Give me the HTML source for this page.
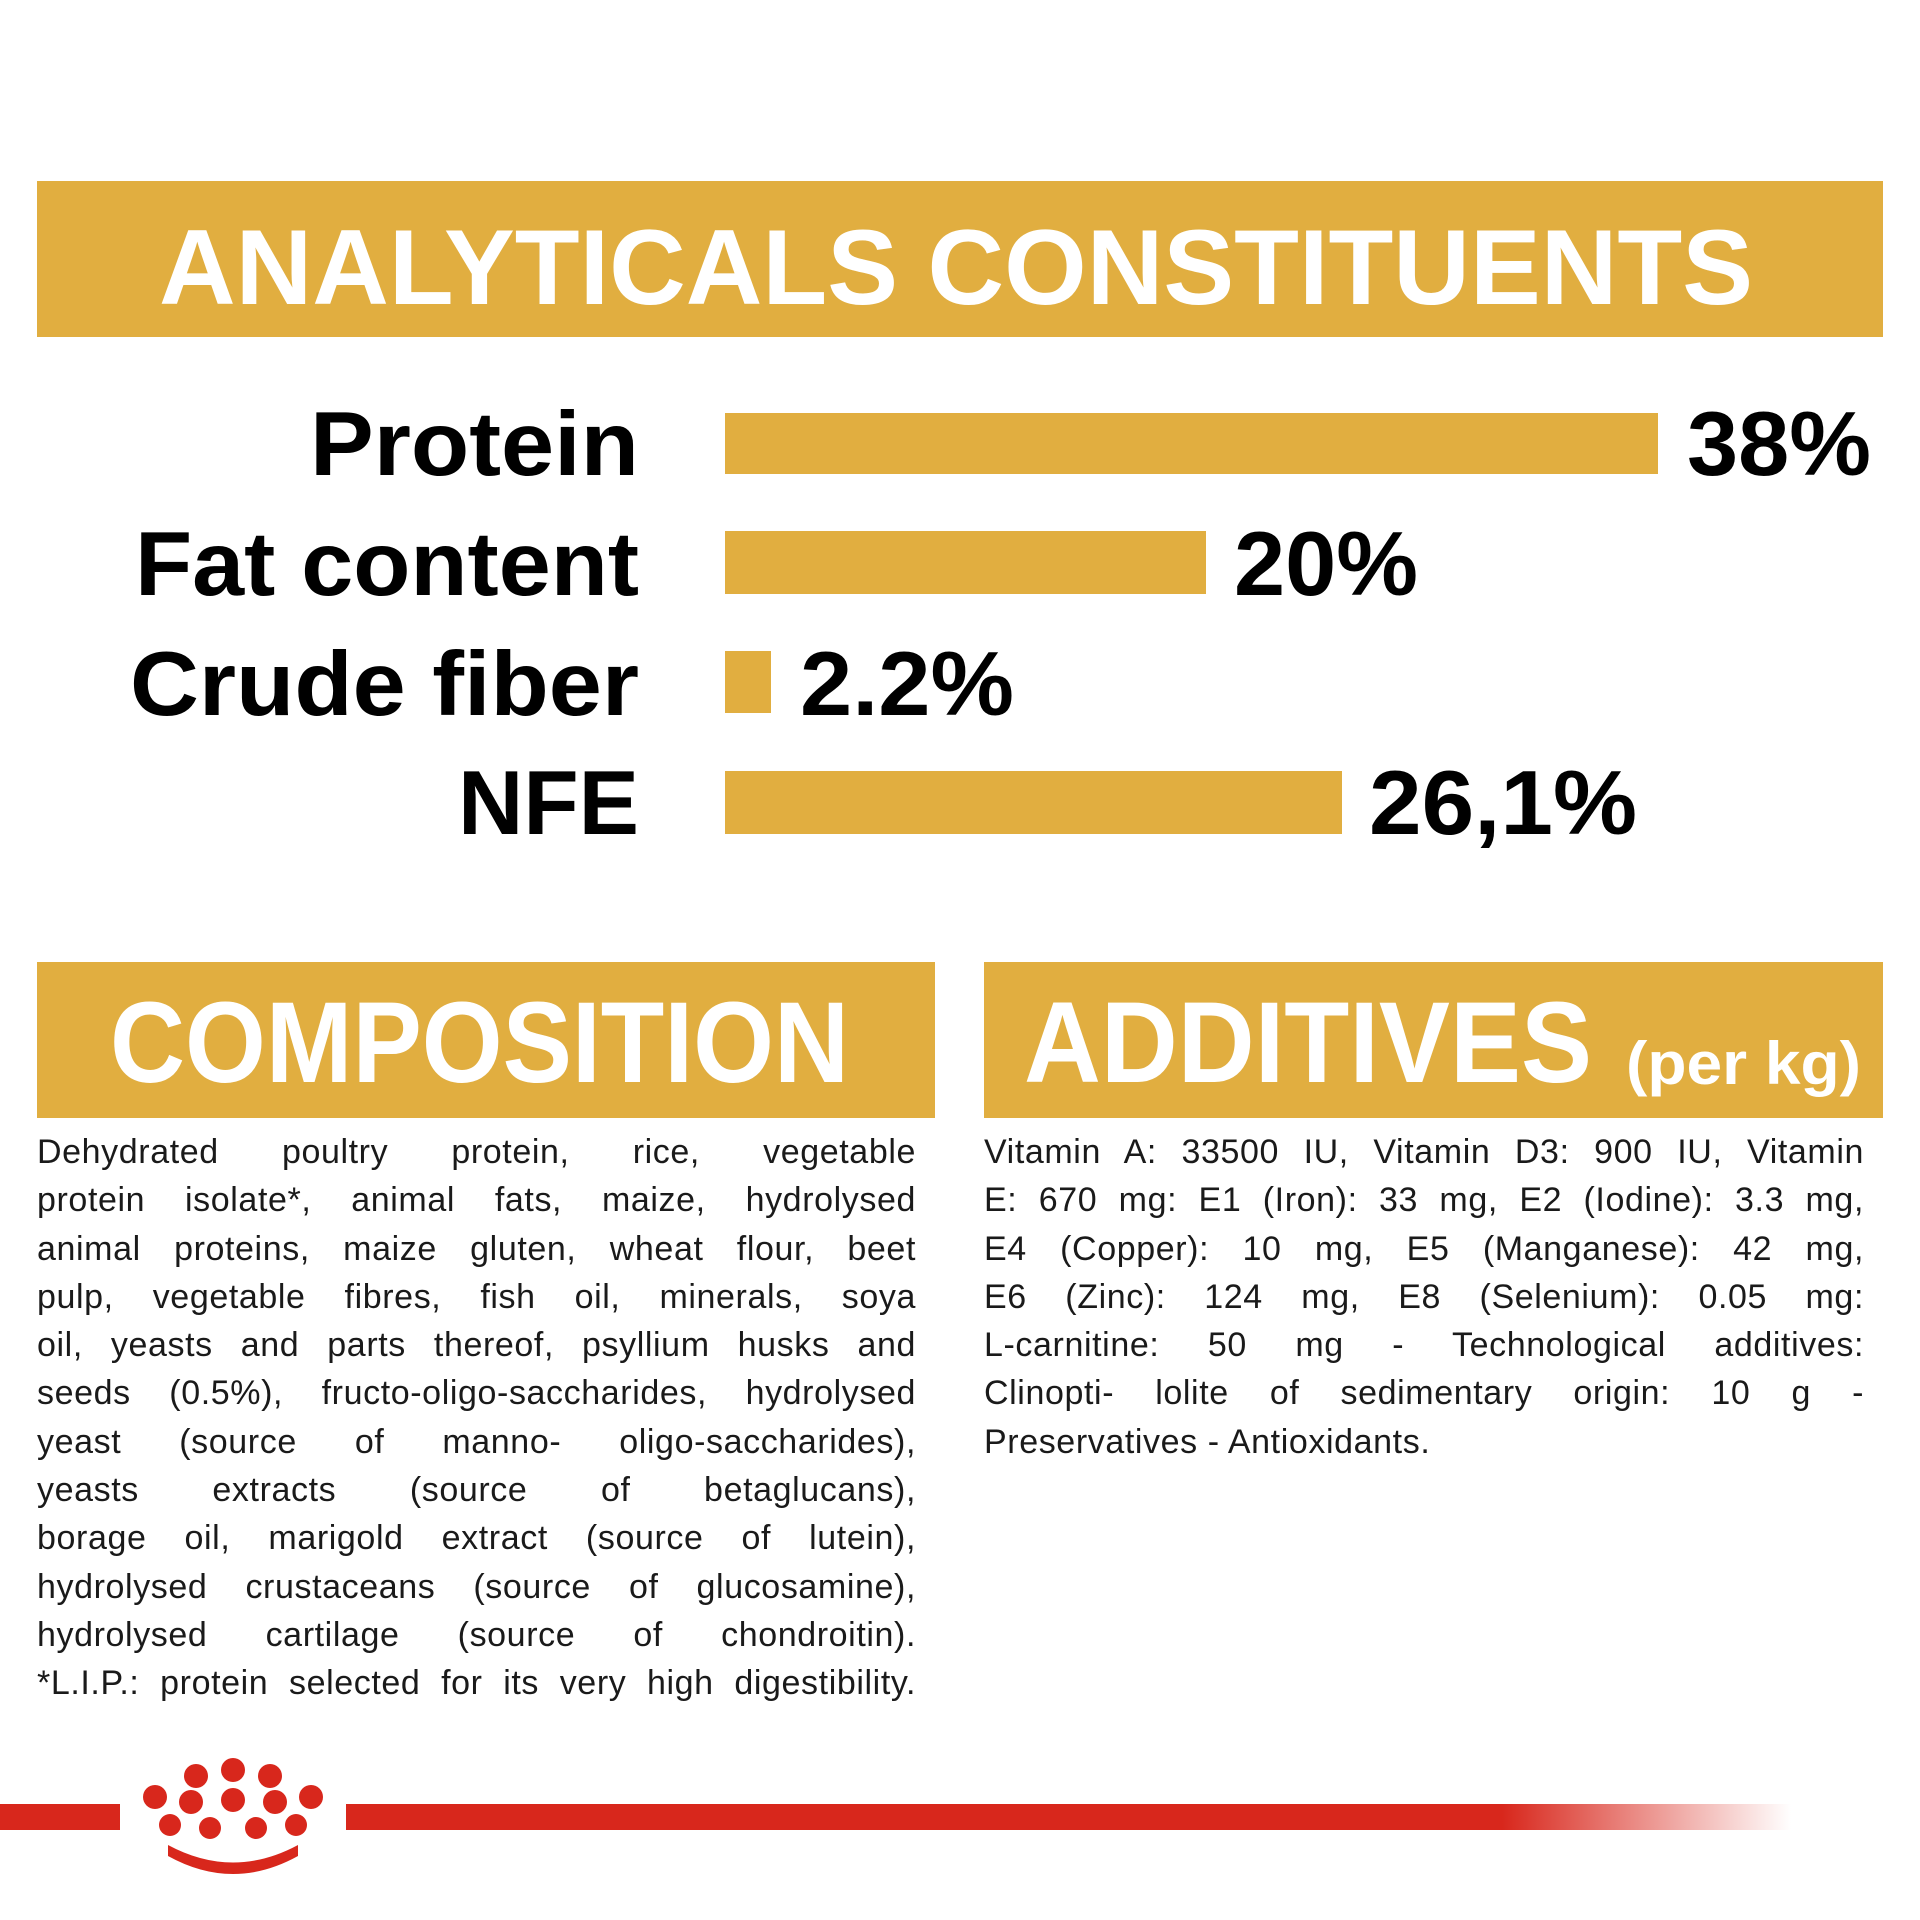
<!DOCTYPE html>
<html><head><meta charset="utf-8"><style>
html,body{margin:0;padding:0;background:#fff;width:1920px;height:1920px;overflow:hidden}
.t{position:absolute;font-family:"Liberation Sans",sans-serif;font-size:34px;letter-spacing:0.6px;line-height:48.3px;color:#1a1a1a}
.t div{text-align:justify;text-align-last:justify;white-space:nowrap;height:48.3px}
.t div.l{text-align-last:left}
</style></head><body>
<svg width="1920" height="1920" style="position:absolute;left:0;top:0" xmlns="http://www.w3.org/2000/svg">
<defs><linearGradient id="g" x1="0" x2="1"><stop offset="0" stop-color="#d8271c"/><stop offset="0.8" stop-color="#d8271c"/><stop offset="1" stop-color="#d8271c" stop-opacity="0"/></linearGradient></defs>
<g font-family="Liberation Sans, sans-serif" font-weight="bold">
<rect x="37" y="181" width="1846" height="156" fill="#e1ae40"/>
<text x="159" y="304" font-size="107" fill="#fff" textLength="1594" lengthAdjust="spacingAndGlyphs">ANALYTICALS CONSTITUENTS</text>
<g fill="#e1ae40">
<rect x="725" y="413" width="933" height="61"/>
<rect x="725" y="531" width="481" height="63"/>
<rect x="725" y="651" width="46" height="62"/>
<rect x="725" y="771" width="617" height="63"/>
</g>
<g font-size="91" fill="#000">
<text x="310" y="475" textLength="329" lengthAdjust="spacingAndGlyphs">Protein</text>
<text x="135" y="595" textLength="504" lengthAdjust="spacingAndGlyphs">Fat content</text>
<text x="130" y="715" textLength="509" lengthAdjust="spacingAndGlyphs">Crude fiber</text>
<text x="458" y="834" textLength="181" lengthAdjust="spacingAndGlyphs">NFE</text>
<text x="1687" y="475" textLength="184" lengthAdjust="spacingAndGlyphs">38%</text>
<text x="1234" y="595" textLength="184" lengthAdjust="spacingAndGlyphs">20%</text>
<text x="800" y="715" textLength="214" lengthAdjust="spacingAndGlyphs">2.2%</text>
<text x="1369" y="834" textLength="268" lengthAdjust="spacingAndGlyphs">26,1%</text>
</g>
<rect x="37" y="962" width="898" height="156" fill="#e1ae40"/>
<rect x="984" y="962" width="899" height="156" fill="#e1ae40"/>
<text x="110" y="1082" font-size="115" fill="#fff" textLength="739" lengthAdjust="spacingAndGlyphs">COMPOSITION</text>
<text x="1024" y="1082" font-size="115" fill="#fff" textLength="568" lengthAdjust="spacingAndGlyphs">ADDITIVES</text>
<text x="1626" y="1084" font-size="60" fill="#fff" textLength="235" lengthAdjust="spacingAndGlyphs">(per kg)</text>
</g>
<rect x="0" y="1804" width="120" height="26" fill="#d8271c"/>
<rect x="346" y="1804" width="1445" height="26" fill="url(#g)"/>
<g fill="#d8271c">
<circle cx="196" cy="1776" r="12"/><circle cx="233" cy="1770" r="12"/><circle cx="270" cy="1776" r="12"/>
<circle cx="155" cy="1797" r="12"/><circle cx="191" cy="1802" r="12"/><circle cx="233" cy="1800" r="12"/><circle cx="275" cy="1802" r="12"/><circle cx="311" cy="1797" r="12"/>
<circle cx="170" cy="1825" r="11"/><circle cx="210" cy="1828" r="11"/><circle cx="256" cy="1828" r="11"/><circle cx="296" cy="1825" r="11"/>
<path d="M168 1845 Q233 1880 298 1845 L298 1856 Q233 1892 168 1856 Z"/>
</g>
</svg>
<div class="t" style="left:37px;top:1128px;width:879px">
<div>Dehydrated poultry protein, rice, vegetable</div>
<div>protein isolate*, animal fats, maize, hydrolysed</div>
<div>animal proteins, maize gluten, wheat flour, beet</div>
<div>pulp, vegetable fibres, fish oil, minerals, soya</div>
<div>oil, yeasts and parts thereof, psyllium husks and</div>
<div>seeds (0.5%), fructo-oligo-saccharides, hydrolysed</div>
<div>yeast (source of manno- oligo-saccharides),</div>
<div>yeasts extracts (source of betaglucans),</div>
<div>borage oil, marigold extract (source of lutein),</div>
<div>hydrolysed crustaceans (source of glucosamine),</div>
<div>hydrolysed cartilage (source of chondroitin).</div>
<div>*L.I.P.: protein selected for its very high digestibility.</div>
</div>
<div class="t" style="left:984px;top:1128px;width:880px">
<div>Vitamin A: 33500 IU, Vitamin D3: 900 IU, Vitamin</div>
<div>E: 670 mg: E1 (Iron): 33 mg, E2 (Iodine): 3.3 mg,</div>
<div>E4 (Copper): 10 mg, E5 (Manganese): 42 mg,</div>
<div>E6 (Zinc): 124 mg, E8 (Selenium): 0.05 mg:</div>
<div>L-carnitine: 50 mg - Technological additives:</div>
<div>Clinopti- lolite of sedimentary origin: 10 g -</div>
<div class="l">Preservatives - Antioxidants.</div>
</div>
</body></html>
